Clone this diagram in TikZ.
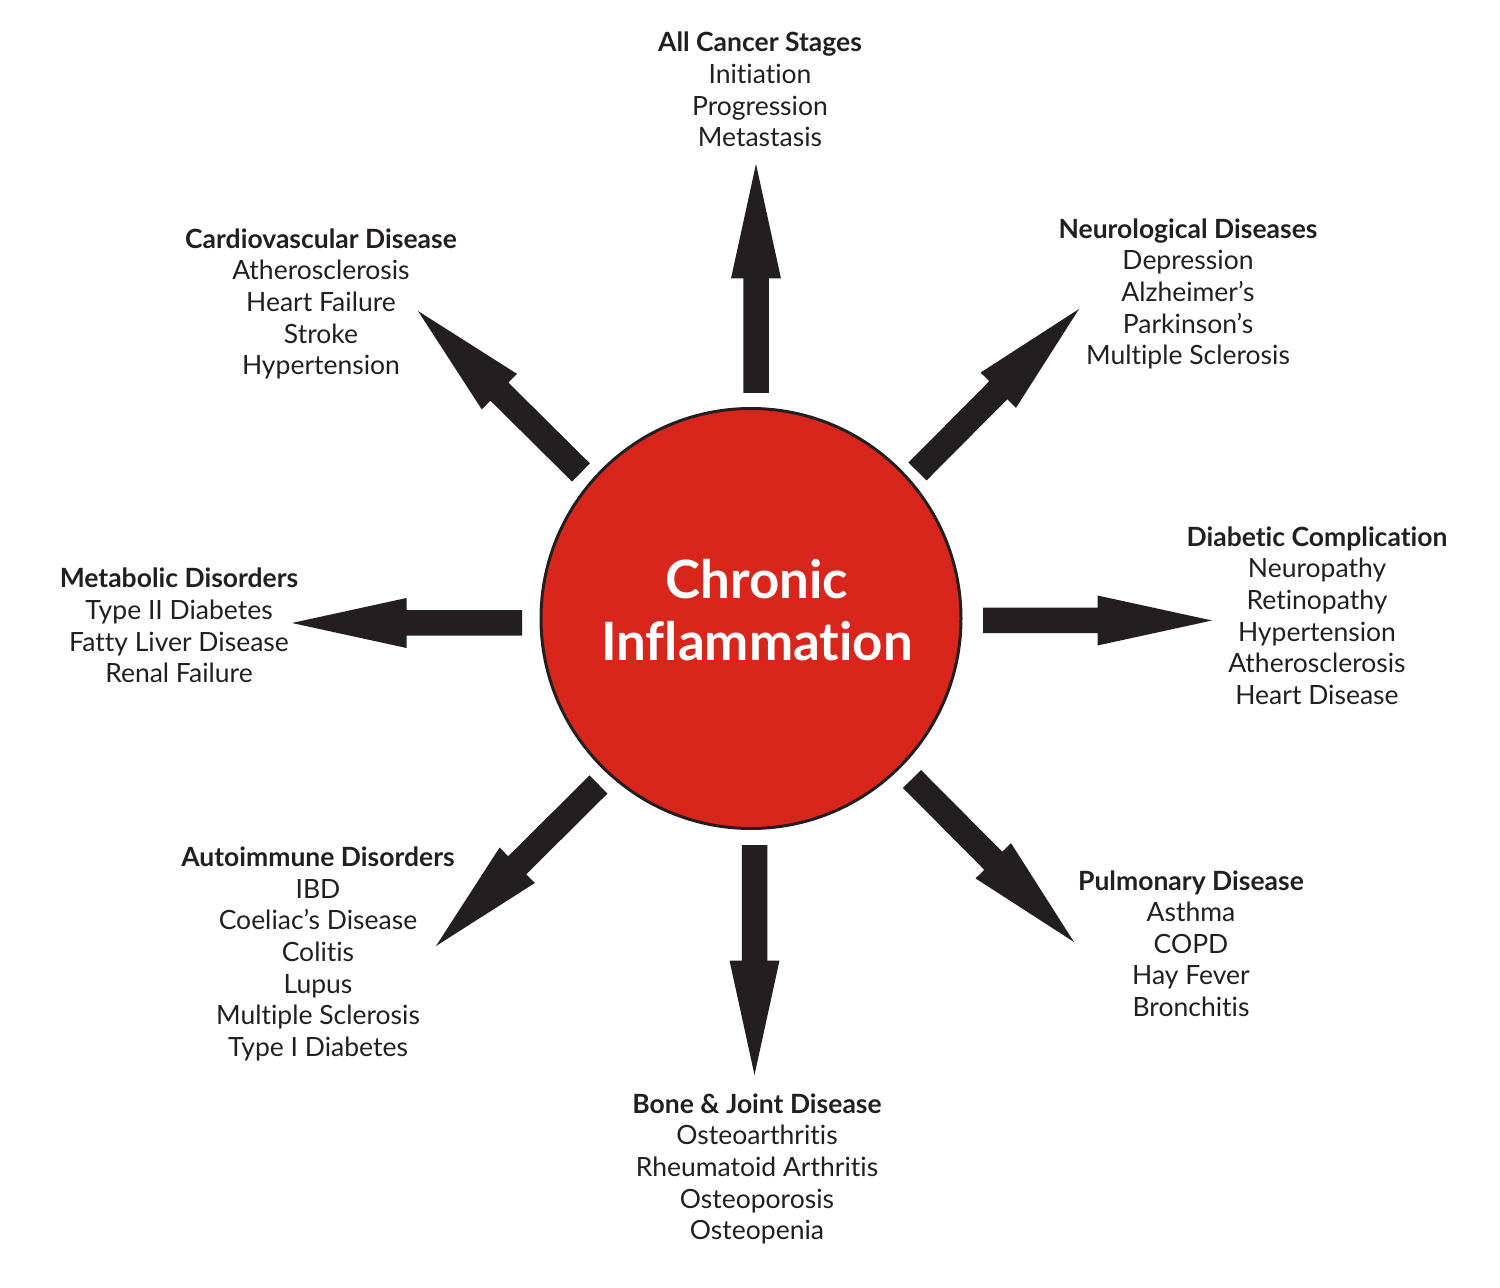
\documentclass[tikz,border=0pt]{standalone}
\usepackage{fontspec}
\setmainfont{Lato}[Ligatures=NoCommon]
\usetikzlibrary{calc}
\definecolor{arrowc}{HTML}{231F20}
\definecolor{redc}{HTML}{D8261D}
\newcommand\blockarrow[2]{%
  \coordinate (hb) at ($(#2)!57.25pt!(#1)$);
  \fill[arrowc] ($(#1)!6.375pt!90:(#2)$) -- ($(hb)!6.375pt!90:(#2)$) -- ($(hb)!12.5pt!90:(#2)$)
    -- (#2) -- ($(hb)!12.5pt!-90:(#2)$) -- ($(hb)!6.375pt!-90:(#2)$) -- ($(#1)!6.375pt!-90:(#2)$) -- cycle;}
\begin{document}
\begin{tikzpicture}[x=0.5pt,y=-0.5pt,
  label/.style={align=center,inner sep=0pt,font=\fontsize{13.25}{15.8}\selectfont,text=arrowc},
  hub/.style={circle,draw=arrowc,line width=1.5pt,fill=redc,minimum size=210pt,inner sep=0pt}]
\useasboundingbox (0,0) rectangle (1500,1288);
\node[hub] (hub) at (751,618.5) {};
\node[align=center,text=white,inner sep=0pt,font=\fontsize{26.4}{31}\selectfont\bfseries] (title) at (757,610) {Chronic\\Inflammation};
% arrow coordinates
\coordinate (nS) at (756,393);  \coordinate (nE) at (756,164);
\coordinate (neS) at (917.5,471.5); \coordinate (neE) at (1079,309);
\coordinate (eS) at (983,620.5); \coordinate (eE) at (1212,620.5);
\coordinate (seS) at (912,779); \coordinate (seE) at (1074,942);
\coordinate (sS) at (754.5,845); \coordinate (sE) at (754.5,1075);
\coordinate (swS) at (598.5,784.5); \coordinate (swE) at (436,946);
\coordinate (wS) at (522,623); \coordinate (wE) at (292,623);
\coordinate (nwS) at (581,472.5); \coordinate (nwE) at (418,311);
\foreach \a in {n,ne,e,se,s,sw,w,nw}{\blockarrow{\a S}{\a E}}
% labels
\node[label] (cancer) at (760,89.5) {\textbf{All Cancer Stages}\\Initiation\\Progression\\Metastasis};
\node[label] (neuro) at (1188,294) {\textbf{Neurological Diseases}\\Depression\\Alzheimer’s\\Parkinson’s\\Multiple Sclerosis};
\node[label] (cardio) at (321,304) {\textbf{Cardiovascular Disease}\\Atherosclerosis\\Heart Failure\\Stroke\\Hypertension};
\node[label] (diab) at (1317,615.5) {\textbf{Diabetic Complication}\\Neuropathy\\Retinopathy\\Hypertension\\Atherosclerosis\\Heart Disease};
\node[label] (metab) at (179,625.5) {\textbf{Metabolic Disorders}\\Type II Diabetes\\Fatty Liver Disease\\Renal Failure};
\node[label] (auto) at (318,954) {\textbf{Autoimmune Disorders}\\IBD\\Coeliac’s Disease\\Colitis\\Lupus\\Multiple Sclerosis\\Type I Diabetes};
\node[label] (pulm) at (1191,943.5) {\textbf{Pulmonary Disease}\\Asthma\\COPD\\Hay Fever\\Bronchitis};
\node[label] (bone) at (757,1169) {\textbf{Bone \& Joint Disease}\\Osteoarthritis\\Rheumatoid Arthritis\\Osteoporosis\\Osteopenia};
\end{tikzpicture}
\end{document}
